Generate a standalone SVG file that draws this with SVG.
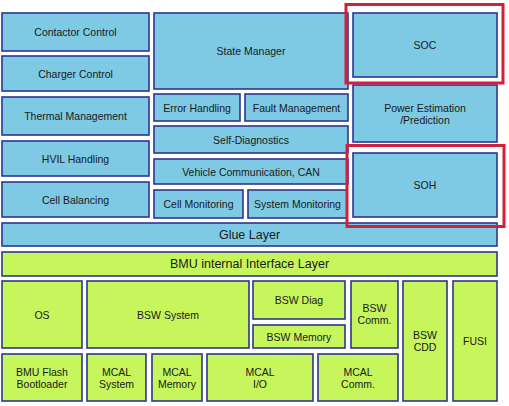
<svg xmlns="http://www.w3.org/2000/svg" width="509" height="406" viewBox="0 0 509 406">
<style>
.b{fill:#7ec9e3;stroke:#2e3592;stroke-width:1.6}
.g{fill:#c6f55c;stroke:#2e3592;stroke-width:1.6}
.r{fill:none;stroke:#d3203a;stroke-width:3}
text{font-family:"Liberation Sans",Arial,sans-serif;font-size:10.5px;fill:#1a1a1a;text-anchor:middle;dominant-baseline:central}
.L{font-size:12.5px}
</style>
<rect width="509" height="406" fill="#ffffff"/>
<g id="contactor-control"><rect class="b" x="2" y="13" width="147" height="38"/><text x="75.5" y="32">Contactor Control</text></g>
<g id="charger-control"><rect class="b" x="2" y="56" width="147" height="35"/><text x="75.5" y="73.5">Charger Control</text></g>
<g id="thermal-management"><rect class="b" x="2" y="97" width="147" height="38"/><text x="75.5" y="116">Thermal Management</text></g>
<g id="hvil-handling"><rect class="b" x="2" y="141" width="147" height="35"/><text x="75.5" y="158.5">HVIL Handling</text></g>
<g id="cell-balancing"><rect class="b" x="2" y="182" width="147" height="35"/><text x="75.5" y="199.5">Cell Balancing</text></g>
<g id="state-manager"><rect class="b" x="154" y="13" width="194" height="76"/><text x="251" y="51">State Manager</text></g>
<g id="error-handling"><rect class="b" x="154" y="94" width="86" height="27"/><text x="197" y="107.5">Error Handling</text></g>
<g id="fault-management"><rect class="b" x="245" y="94" width="103" height="27"/><text x="296.5" y="107.5">Fault Management</text></g>
<g id="self-diagnostics"><rect class="b" x="154" y="126" width="194" height="27"/><text x="251" y="139.5">Self-Diagnostics</text></g>
<g id="vehicle-communication"><rect class="b" x="154" y="159" width="194" height="25"/><text x="251" y="171.5">Vehicle Communication, CAN</text></g>
<g id="cell-monitoring"><rect class="b" x="154" y="190" width="89" height="28"/><text x="198.5" y="204">Cell Monitoring</text></g>
<g id="system-monitoring"><rect class="b" x="248" y="190" width="99" height="28"/><text x="297.5" y="204">System Monitoring</text></g>
<g id="soc"><rect class="b" x="353" y="13" width="144" height="64"/><text x="425" y="45">SOC</text></g>
<g id="power-estimation"><rect class="b" x="353" y="85" width="144" height="57"/><text x="425" y="108">Power Estimation</text><text x="425" y="120">/Prediction</text></g>
<g id="soh"><rect class="b" x="353" y="153" width="144" height="64"/><text x="425" y="185">SOH</text></g>
<g id="glue-layer"><rect class="b" x="2" y="223" width="495" height="23"/><text class="L" x="249.5" y="234.5">Glue Layer</text></g>
<g id="bmu-internal-interface-layer"><rect class="g" x="2" y="252" width="495" height="24"/><text class="L" x="249.5" y="264">BMU internal Interface Layer</text></g>
<g id="os"><rect class="g" x="2" y="281" width="80" height="67"/><text x="42" y="314.5">OS</text></g>
<g id="bsw-system"><rect class="g" x="87" y="281" width="162" height="67"/><text x="168" y="314.5">BSW System</text></g>
<g id="bsw-diag"><rect class="g" x="253" y="281" width="92" height="38"/><text x="299" y="300">BSW Diag</text></g>
<g id="bsw-memory"><rect class="g" x="253" y="325" width="92" height="23"/><text x="299" y="336.5">BSW Memory</text></g>
<g id="bsw-comm"><rect class="g" x="351" y="281" width="47" height="67"/><text x="374.5" y="308">BSW</text><text x="374.5" y="320">Comm.</text></g>
<g id="bsw-cdd"><rect class="g" x="403" y="281" width="44" height="120"/><text x="425" y="335">BSW</text><text x="425" y="347">CDD</text></g>
<g id="fusi"><rect class="g" x="453" y="281" width="44" height="120"/><text x="475" y="341">FUSI</text></g>
<g id="bmu-flash-bootloader"><rect class="g" x="2" y="354" width="80" height="47"/><text x="42" y="372">BMU Flash</text><text x="42" y="384">Bootloader</text></g>
<g id="mcal-system"><rect class="g" x="87" y="354" width="59" height="47"/><text x="116.5" y="372">MCAL</text><text x="116.5" y="384">System</text></g>
<g id="mcal-memory"><rect class="g" x="152" y="354" width="50" height="47"/><text x="177" y="372">MCAL</text><text x="177" y="384">Memory</text></g>
<g id="mcal-io"><rect class="g" x="207" y="354" width="106" height="47"/><text x="260" y="372">MCAL</text><text x="260" y="384">I/O</text></g>
<g id="mcal-comm"><rect class="g" x="318" y="354" width="80" height="47"/><text x="358" y="372">MCAL</text><text x="358" y="384">Comm.</text></g>
<g id="connectors"></g>
<g id="highlights">
<rect class="r" x="346" y="4.5" width="157" height="78.5"/>
<rect class="r" x="347" y="145.5" width="157" height="81"/>
</g>
</svg>
